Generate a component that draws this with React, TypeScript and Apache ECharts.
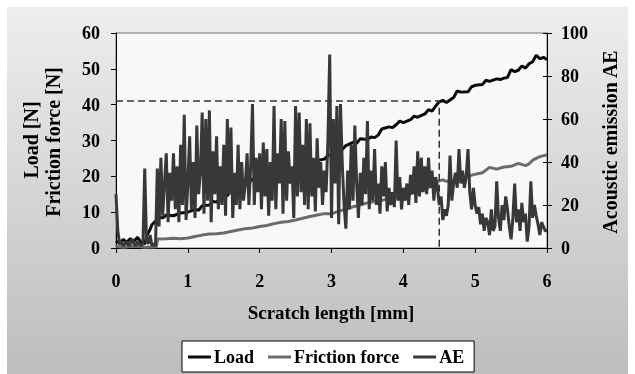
import React, { useEffect, useRef } from "react";
import * as echarts from "echarts";

const xTicks = { min: 0, max: 6, interval: 1 };
const leftTicks = { min: 0, max: 60, interval: 10 };
const rightTicks = { min: 0, max: 100, interval: 20 };

const legendNames = ["Load", "Friction force", "AE"];

// Load [N] vs scratch length [mm]
const loadData: [number, number][] = [
  [0, 2], [0.05, 1.2], [0.1, 2.4], [0.15, 1.6], [0.2, 2.6], [0.25, 1.8], [0.3, 3], [0.35, 1.5],
  [0.4, 1.2], [0.43, 3.5], [0.47, 5], [0.5, 6.5], [0.55, 7.5], [0.6, 8.6], [0.65, 8.4], [0.7, 9.2],
  [0.8, 9], [0.9, 9.8], [1.0, 10], [1.1, 10.8], [1.15, 10.5], [1.2, 11.8], [1.3, 12], [1.35, 13],
  [1.4, 12.8], [1.5, 14.8], [1.55, 14.6], [1.6, 16.2], [1.7, 16.5], [1.75, 17.5], [1.8, 17.4],
  [1.9, 19.2], [1.95, 19], [2.0, 20], [2.1, 19.8], [2.15, 20.8], [2.2, 20.6], [2.3, 21.5],
  [2.35, 21.3], [2.4, 22.2], [2.5, 22], [2.55, 23], [2.6, 22.8], [2.7, 23.6], [2.75, 23.4],
  [2.8, 24.4], [2.9, 24.8], [2.95, 25.8], [3.0, 26], [3.1, 27.8], [3.15, 27.5], [3.2, 28.6],
  [3.3, 29.5], [3.35, 29.2], [3.4, 30.5], [3.5, 30.3], [3.55, 31], [3.6, 30.8], [3.65, 31.5],
  [3.7, 33.2], [3.8, 33.8], [3.85, 33.6], [3.9, 34.4], [3.95, 35.4], [4.0, 35], [4.1, 35.8],
  [4.15, 36.8], [4.2, 36.5], [4.3, 37.4], [4.35, 38.6], [4.4, 38.2], [4.45, 39.6], [4.5, 40.8],
  [4.55, 41.2], [4.6, 40.6], [4.7, 42], [4.75, 43.8], [4.8, 43.5], [4.9, 43.6], [4.95, 45],
  [5.0, 45.4], [5.1, 45.6], [5.15, 46.8], [5.2, 46.5], [5.3, 47.2], [5.35, 47], [5.4, 47.4],
  [5.45, 47.6], [5.5, 49.8], [5.55, 49.2], [5.6, 49.6], [5.65, 50.8], [5.7, 50.2], [5.75, 51.4],
  [5.8, 52], [5.85, 53.8], [5.9, 52.8], [5.95, 53.2], [6.0, 52.6],
];

// Friction force [N]
const frictionData: [number, number][] = [
  [0, 0.5], [0.1, 0.2], [0.2, 0.4], [0.3, 0.5], [0.4, 0.2], [0.5, 0.3], [0.56, 0.3], [0.58, 2.5],
  [0.7, 2.6], [0.8, 2.7], [0.9, 2.6], [1.0, 2.8], [1.1, 3.2], [1.2, 3.6], [1.3, 3.9], [1.4, 4],
  [1.5, 4.2], [1.6, 4.6], [1.7, 5], [1.8, 5.4], [1.9, 5.6], [2.0, 6], [2.1, 6.3], [2.2, 6.8],
  [2.3, 7.2], [2.4, 7.4], [2.5, 7.8], [2.6, 8.3], [2.7, 8.8], [2.8, 9.2], [2.9, 9.6], [3.0, 9.5],
  [3.1, 10.3], [3.2, 10.8], [3.3, 11.5], [3.4, 12], [3.5, 12.6], [3.6, 13], [3.7, 13.3],
  [3.8, 13.8], [3.9, 14.2], [4.0, 14.5], [4.1, 15.2], [4.2, 15.8], [4.3, 16.3], [4.4, 17.5],
  [4.5, 18.8], [4.55, 19], [4.6, 18.6], [4.7, 18.8], [4.8, 19.6], [4.9, 20], [5.0, 20.6],
  [5.1, 21], [5.2, 22.5], [5.3, 22], [5.4, 22.6], [5.5, 22.8], [5.6, 23.6], [5.7, 23],
  [5.75, 23.5], [5.8, 24.5], [5.9, 25.5], [6.0, 26],
];

// Acoustic emission AE, sampled every 0.025 mm from 0 to 6 mm
const aeStep = 0.025;
const aeValues: number[] = [
  25, 8, 2, 3, 1, 2, 3, 1, 2, 4,
  2, 1, 3, 2, 1, 2, 37, 3, 2, 6,
  1, 2, 1, 37, 10, 42, 15, 30, 44, 12,
  35, 22, 44, 18, 38, 12, 48, 20, 62, 13,
  30, 52, 18, 40, 14, 57, 25, 35, 63, 16,
  60, 22, 64, 12, 45, 25, 52, 18, 38, 20,
  48, 15, 60, 25, 56, 14, 35, 20, 48, 18,
  40, 22, 30, 44, 20, 38, 67, 20, 42, 26,
  44, 18, 49, 24, 46, 15, 40, 22, 66, 18,
  44, 30, 60, 16, 59, 22, 45, 30, 38, 14,
  66, 24, 63, 26, 48, 20, 60, 18, 58, 24,
  42, 17, 51, 28, 40, 20, 36, 26, 50, 90,
  14, 60, 30, 66, 11, 67, 39, 20, 9, 36,
  18, 48, 22, 57, 30, 14, 35, 20, 42, 25,
  59, 18, 36, 22, 46, 20, 30, 16, 38, 24,
  40, 17, 28, 20, 26, 19, 50, 22, 33, 18,
  28, 22, 30, 20, 34, 25, 38, 21, 45, 24,
  42, 26, 38, 25, 42, 28, 36, 22, 33, 28,
  20, 24, 13, 18, 15, 20, 43, 22, 30, 35,
  28, 46, 30, 36, 28, 33, 46, 26, 18, 28,
  20, 16, 19, 11, 16, 8, 14, 12, 6, 18,
  8, 10, 31, 14, 8, 20, 13, 24, 18, 10,
  4, 14, 30, 12, 18, 8, 21, 12, 16, 3,
  10, 31, 14, 20, 15, 11, 6, 12, 10, 8,
  8,
];

// dashed guide: load at the critical point
const dashX = [0, 4.5, 4.5];
const dashY = [41, 41, 0];

const FONT = "'Liberation Serif', 'Times New Roman', serif";

export default function App() {
  const ref = useRef<HTMLDivElement>(null);
  useEffect(() => {
    if (!ref.current) return;
    const chart = echarts.init(ref.current, undefined, { renderer: "svg" });
    const labelStyle = { fontFamily: FONT, fontWeight: "bold" as const, fontSize: 18, color: "#000" };
    const aeData = aeValues.map((v, i) => [Number((i * aeStep).toFixed(3)), v]);
    const dashData = dashX.map((x, i) => [x, dashY[i]]);
    const titleStyle = (text: string, size: number) => ({
      text,
      font: `bold ${size}px ${FONT}`,
      fill: "#000",
      textAlign: "center",
      textVerticalAlign: "middle",
    });
    chart.setOption({
      animation: false,
      graphic: [
        {
          type: "rect",
          z: -10,
          shape: { x: 7, y: 7, width: 621, height: 367 },
          style: {
            fill: new echarts.graphic.LinearGradient(0, 0, 0, 1, [
              { offset: 0, color: "#eeeeee" },
              { offset: 1, color: "#bdbdbd" },
            ]),
          },
        },
        { type: "text", x: 31, y: 140, rotation: Math.PI / 2, style: titleStyle("Load [N]", 20) },
        { type: "text", x: 53, y: 142, rotation: Math.PI / 2, style: titleStyle("Friction force [N]", 20) },
        { type: "text", x: 610, y: 142, rotation: Math.PI / 2, style: titleStyle("Acoustic emission AE", 20) },
        { type: "text", x: 331, y: 312, style: titleStyle("Scratch length [mm]", 19) },
      ],
      grid: {
        left: 116,
        right: 88,
        top: 33,
        bottom: 126,
        show: true,
        backgroundColor: "#f8f8f8",
        borderColor: "#777",
        borderWidth: 1,
      },
      legend: {
        data: legendNames.map((n) => ({ name: n, icon: "rect" })),
        left: 182,
        top: 341,
        padding: [7, 10, 6, 6],
        itemGap: 14,
        itemWidth: 23,
        itemHeight: 3,
        backgroundColor: "#ffffff",
        borderColor: "#000",
        borderWidth: 1,
        borderRadius: 0,
        textStyle: { ...labelStyle, padding: [2, 0, 0, -2] },
      },
      xAxis: {
        type: "value",
        ...xTicks,
        axisLine: { show: true, lineStyle: { color: "#000", width: 1 } },
        axisTick: { show: true, length: 5, lineStyle: { color: "#000" } },
        axisLabel: { ...labelStyle, margin: 24 },
        splitLine: { show: false },
      },
      yAxis: [
        {
          type: "value",
          position: "left",
          ...leftTicks,
          axisLine: { show: true, lineStyle: { color: "#000", width: 1 } },
          axisTick: { show: true, length: 5, lineStyle: { color: "#000" } },
          axisLabel: { ...labelStyle, margin: 16 },
          splitLine: { show: false },
        },
        {
          type: "value",
          position: "right",
          ...rightTicks,
          axisLine: { show: true, lineStyle: { color: "#000", width: 1 } },
          axisTick: { show: true, length: 5, lineStyle: { color: "#000" } },
          axisLabel: { ...labelStyle, margin: 14 },
          splitLine: { show: false },
        },
        {
          type: "value",
          position: "right",
          ...rightTicks,
          axisLine: { show: false },
          axisTick: { show: true, inside: true, length: 4, lineStyle: { color: "#000" } },
          axisLabel: { show: false },
          splitLine: { show: false },
        },
      ],
      series: [
        {
          name: "Load",
          type: "line",
          yAxisIndex: 0,
          symbol: "none",
          data: loadData,
          lineStyle: { color: "#0a0a0a", width: 3 },
          itemStyle: { color: "#0a0a0a" },
          z: 3,
        },
        {
          name: "Friction force",
          type: "line",
          yAxisIndex: 0,
          symbol: "none",
          data: frictionData,
          lineStyle: { color: "#6b6b6b", width: 3 },
          itemStyle: { color: "#6b6b6b" },
          z: 3,
        },
        {
          name: "AE",
          type: "line",
          yAxisIndex: 1,
          symbol: "none",
          data: aeData,
          lineStyle: { color: "#383838", width: 3 },
          itemStyle: { color: "#383838" },
          z: 4,
        },
        {
          name: "guide",
          type: "line",
          yAxisIndex: 0,
          symbol: "none",
          silent: true,
          data: dashData,
          lineStyle: { color: "#333", width: 1.5, type: [7, 4] },
          z: 5,
        },
      ],
    });
    return () => chart.dispose();
  }, []);
  return (
    <div
      ref={ref}
      style={{ position: "fixed", left: 0, top: 0, width: 635, height: 374 }}
    />
  );
}
